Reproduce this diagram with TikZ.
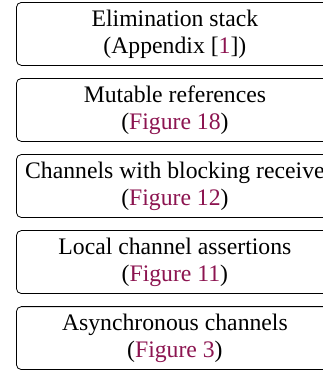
\documentclass[tikz,border=0pt]{standalone}
\usepackage{fontspec}
\setmainfont{Liberation Serif}
\usepackage{xcolor}
\definecolor{linkcol}{RGB}{140,20,80}
\usetikzlibrary{positioning}

\begin{document}
\begin{tikzpicture}[every node/.style={font=\fontsize{23.7}{27}\selectfont}, node distance=12.25pt]

  \tikzstyle{layer}=[rounded corners=5pt, draw, line width=0.8pt, align=center,
    minimum width=317pt, minimum height=63pt, inner sep=0pt]
  \newcommand{\reflink}[1]{\textcolor{linkcol}{#1}}

  \useasboundingbox (0,0) rectangle (323pt,-370pt);

  \node [layer, anchor=north west] (elim) at (16pt,-2pt) {
    Elimination stack \\
    (Appendix [\reflink{1}])
  };
  \node [layer, below = of elim] (mutref) {
    Mutable references \\
    (\reflink{Figure 18})
  };
  \node [layer, below = of mutref] (blockrecv) {
    Channels with blocking receive \\
    (\reflink{Figure 12})
  };
  \node [layer, below = of blockrecv] (localchan) {
    Local channel assertions \\
    (\reflink{Figure 11})
  };
  \node [layer, below = of localchan] (asyncchan) {
    Asynchronous channels \\
    (\reflink{Figure 3})
  };

\end{tikzpicture}
\end{document}
